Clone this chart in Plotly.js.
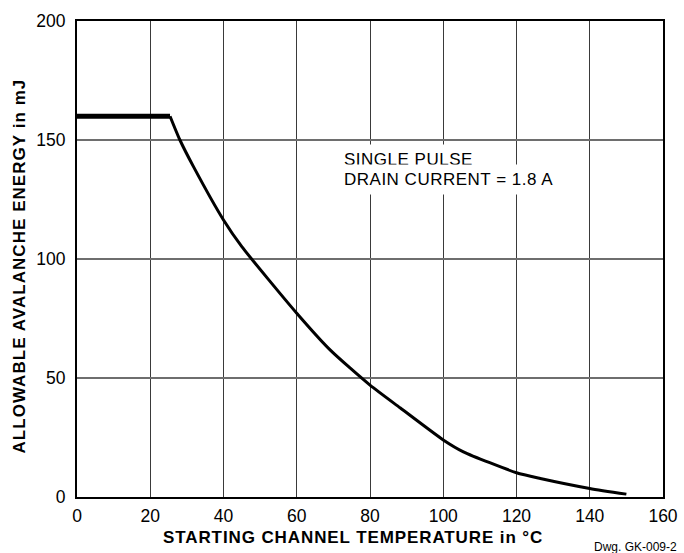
<!DOCTYPE html>
<html>
<head>
<meta charset="utf-8">
<script src="https://cdn.plot.ly/plotly-3.0.1.min.js"></script>
<style>html,body{margin:0;padding:0;background:#fff;}#chart{width:684px;height:553px;}</style>
</head>
<body>
<div id="chart"></div>
<script>
// Flat (limited) section
const flatTemp = [0, 25.4];
const flatEnergy = [160, 160];
// Derating curve
const curveTemp = [25.4, 28.1, 31.8, 40, 45, 60, 69.1, 80, 88.3, 100, 105.5, 120, 126.5, 140, 150];
const curveEnergy = [160, 150, 138.8, 116.4, 105.2, 77.2, 61.8, 47, 37.4, 24, 19, 10.2, 7.8, 3.6, 1.2];
const xTicks = [0, 20, 40, 60, 80, 100, 120, 140, 160];
const yTicks = [0, 50, 100, 150, 200];
const noteLines = ['SINGLE PULSE', 'DRAIN CURRENT = 1.8 A'];
const xTitle = 'STARTING CHANNEL TEMPERATURE in °C';
const yTitle = 'ALLOWABLE AVALANCHE ENERGY in mJ';
const dwgLabel = 'Dwg. GK-009-2';

const font = "Liberation Sans, Arial, Helvetica, sans-serif";
const sp = (t, ls) => '<span style="letter-spacing:' + ls + 'px">' + t + '</span>';

const data = [
  {x: flatTemp, y: flatEnergy, mode: 'lines', line: {color: '#000', width: 5}, hoverinfo: 'skip'},
  {x: curveTemp, y: curveEnergy, mode: 'lines', line: {color: '#000', width: 3, shape: 'spline', smoothing: 0.6}, hoverinfo: 'skip'}
];

const layout = {
  width: 684, height: 553,
  margin: {l: 77, r: 21, t: 21, b: 56},
  paper_bgcolor: '#fff', plot_bgcolor: '#fff',
  showlegend: false,
  font: {family: font, color: '#000', size: 17},
  xaxis: {
    range: [0, 160], tickvals: xTicks, ticks: '', showgrid: true,
    gridcolor: '#3a3a3a', gridwidth: 1, zeroline: false,
    showline: true, linecolor: '#000', linewidth: 2, mirror: true,
    tickfont: {size: 17.5}, ticklabelstandoff: 2
  },
  yaxis: {
    range: [0, 200], tickvals: yTicks, ticks: '', showgrid: true,
    gridcolor: '#6e6e6e', gridwidth: 1.3, zeroline: false,
    showline: true, linecolor: '#000', linewidth: 2, mirror: true,
    tickfont: {size: 17.5}, ticklabelstandoff: 6
  },
  annotations: [
    {x: 71.3, y: 142.0, xref: 'x', yref: 'y', xanchor: 'left', yanchor: 'middle', align: 'left',
     text: sp(noteLines[0], 0.5), showarrow: false, bgcolor: '#fff', font: {size: 17}, borderpad: 5},
    {x: 71.3, y: 133.6, xref: 'x', yref: 'y', xanchor: 'left', yanchor: 'middle', align: 'left',
     text: sp(noteLines[1], 0.5), showarrow: false, bgcolor: '#fff', font: {size: 17}, borderpad: 5},
    {x: 0.471, y: -0.0861, xref: 'paper', yref: 'paper', xanchor: 'center', yanchor: 'middle',
     text: '<b>' + sp(xTitle, 0.9) + '</b>', showarrow: false, font: {size: 17}},
    {x: -0.0981, y: 0.4853, xref: 'paper', yref: 'paper', xanchor: 'center', yanchor: 'middle', textangle: -90,
     text: '<b>' + sp(yTitle, 1.05) + '</b>', showarrow: false, font: {size: 17}},
    {x: 1.0273, y: -0.105, xref: 'paper', yref: 'paper', xanchor: 'right', yanchor: 'middle',
     text: dwgLabel, showarrow: false, font: {size: 12}}
  ]
};

Plotly.newPlot('chart', data, layout, {displayModeBar: false, staticPlot: true});
</script>
</body>
</html>
